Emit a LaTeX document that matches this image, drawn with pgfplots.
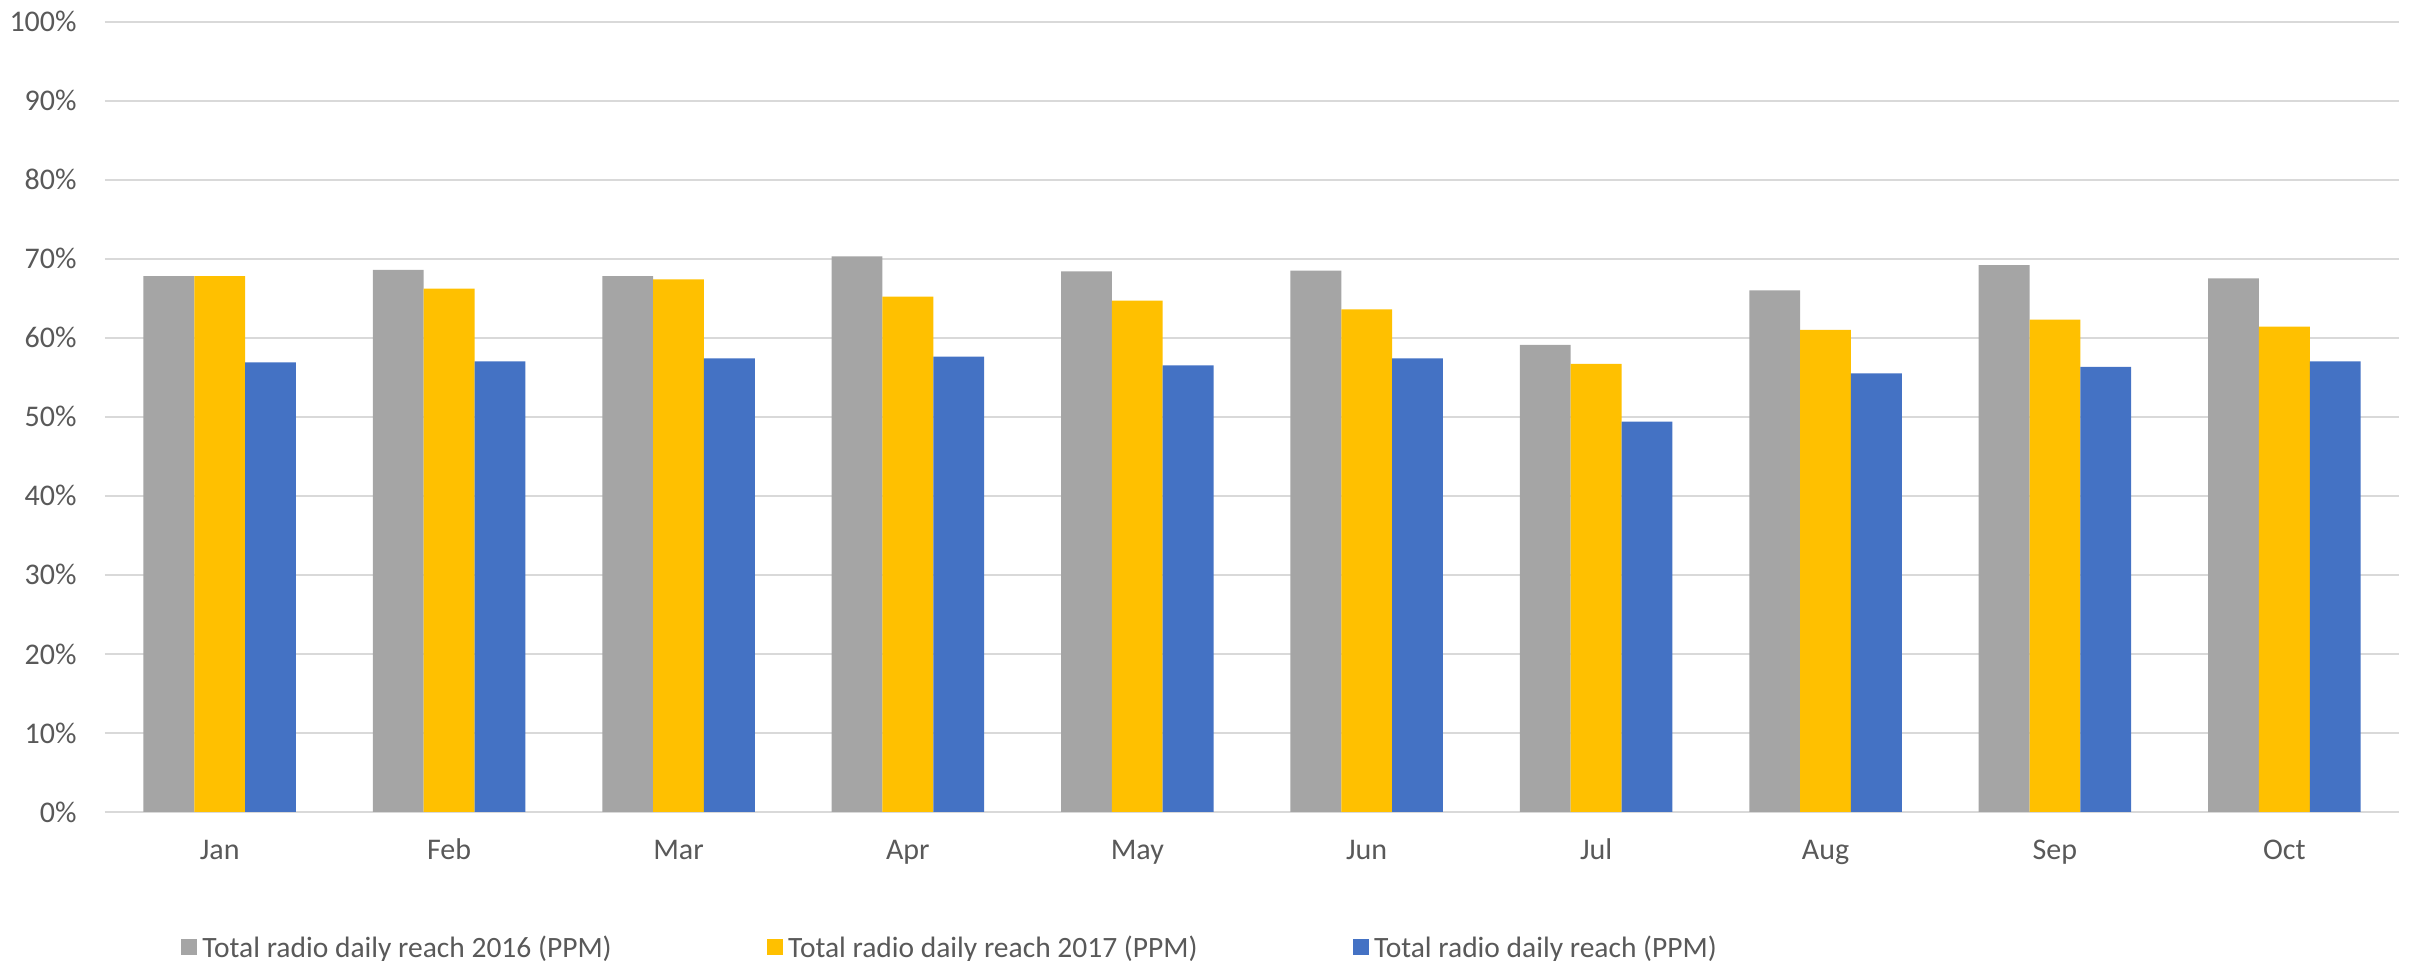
\documentclass[border=0pt]{standalone}
\usepackage{pgfplots}
\pgfplotsset{compat=1.18}
\usepackage{fontspec}
\setmainfont{Carlito}

\definecolor{c2016}{HTML}{A5A5A5}
\definecolor{c2017}{HTML}{FFC000}
\definecolor{cnow}{HTML}{4472C4}
\definecolor{gridc}{HTML}{D9D9D9}
\definecolor{txt}{HTML}{595959}

\newcommand{\chartfont}{\fontsize{15pt}{18pt}\selectfont}
\newcommand{\legendfont}{\fontsize{14.75pt}{18pt}\selectfont}

\begin{document}
\begin{tikzpicture}[font=\chartfont]
\useasboundingbox (-52.5pt,-74.5pt) rectangle (1156.5pt,406pt);
\begin{axis}[
  at={(0pt,0pt)}, anchor=south west,
  scale only axis, width=1147pt, height=395.2pt,
  xmin=-0.5, xmax=9.5, ymin=0, ymax=100,
  ybar=0pt, bar width=0.2216,
  xtick={0,...,9},
  xticklabels={Jan,Feb,Mar,Apr,May,Jun,Jul,Aug,Sep,Oct},
  ytick={0,10,...,100},
  yticklabels={0\%,10\%,20\%,30\%,40\%,50\%,60\%,70\%,80\%,90\%,100\%},
  axis line style={draw=none},
  major tick length=0pt,
  ymajorgrids,
  grid style={gridc, line width=1pt},
  tick label style={font=\chartfont, text=txt},
  yticklabel style={inner sep=0pt, anchor=east, xshift=-14pt},
  xticklabel style={inner sep=0pt, anchor=base, yshift=-23.7pt},
  legend columns=-1,
  legend cell align=left,
  legend image code/.code={\fill[#1] (0pt,-3.7pt) rectangle (8pt,4.3pt);},
  legend style={at={(0.0331,-0.1719)}, anchor=west, draw=none, fill=none,
    inner sep=0pt, outer sep=0pt, font=\legendfont, text=txt,
    nodes={inner sep=0pt},
    /tikz/every odd column/.append style={column sep=2.75pt},
    /tikz/every even column/.append style={column sep=77.5pt}},
]
\addplot[draw=none, fill=c2016] coordinates {
  (0,67.8) (1,68.6) (2,67.8) (3,70.3) (4,68.4)
  (5,68.5) (6,59.1) (7,66.0) (8,69.2) (9,67.5)};
\addplot[draw=none, fill=c2017] coordinates {
  (0,67.8) (1,66.2) (2,67.4) (3,65.2) (4,64.7)
  (5,63.6) (6,56.7) (7,61.0) (8,62.3) (9,61.4)};
\addplot[draw=none, fill=cnow] coordinates {
  (0,56.9) (1,57.0) (2,57.4) (3,57.6) (4,56.5)
  (5,57.4) (6,49.4) (7,55.5) (8,56.3) (9,57.0)};
\legend{Total radio daily reach 2016 (PPM),
        Total radio daily reach 2017 (PPM),
        Total radio daily reach (PPM)}
\end{axis}
\end{tikzpicture}
\end{document}
